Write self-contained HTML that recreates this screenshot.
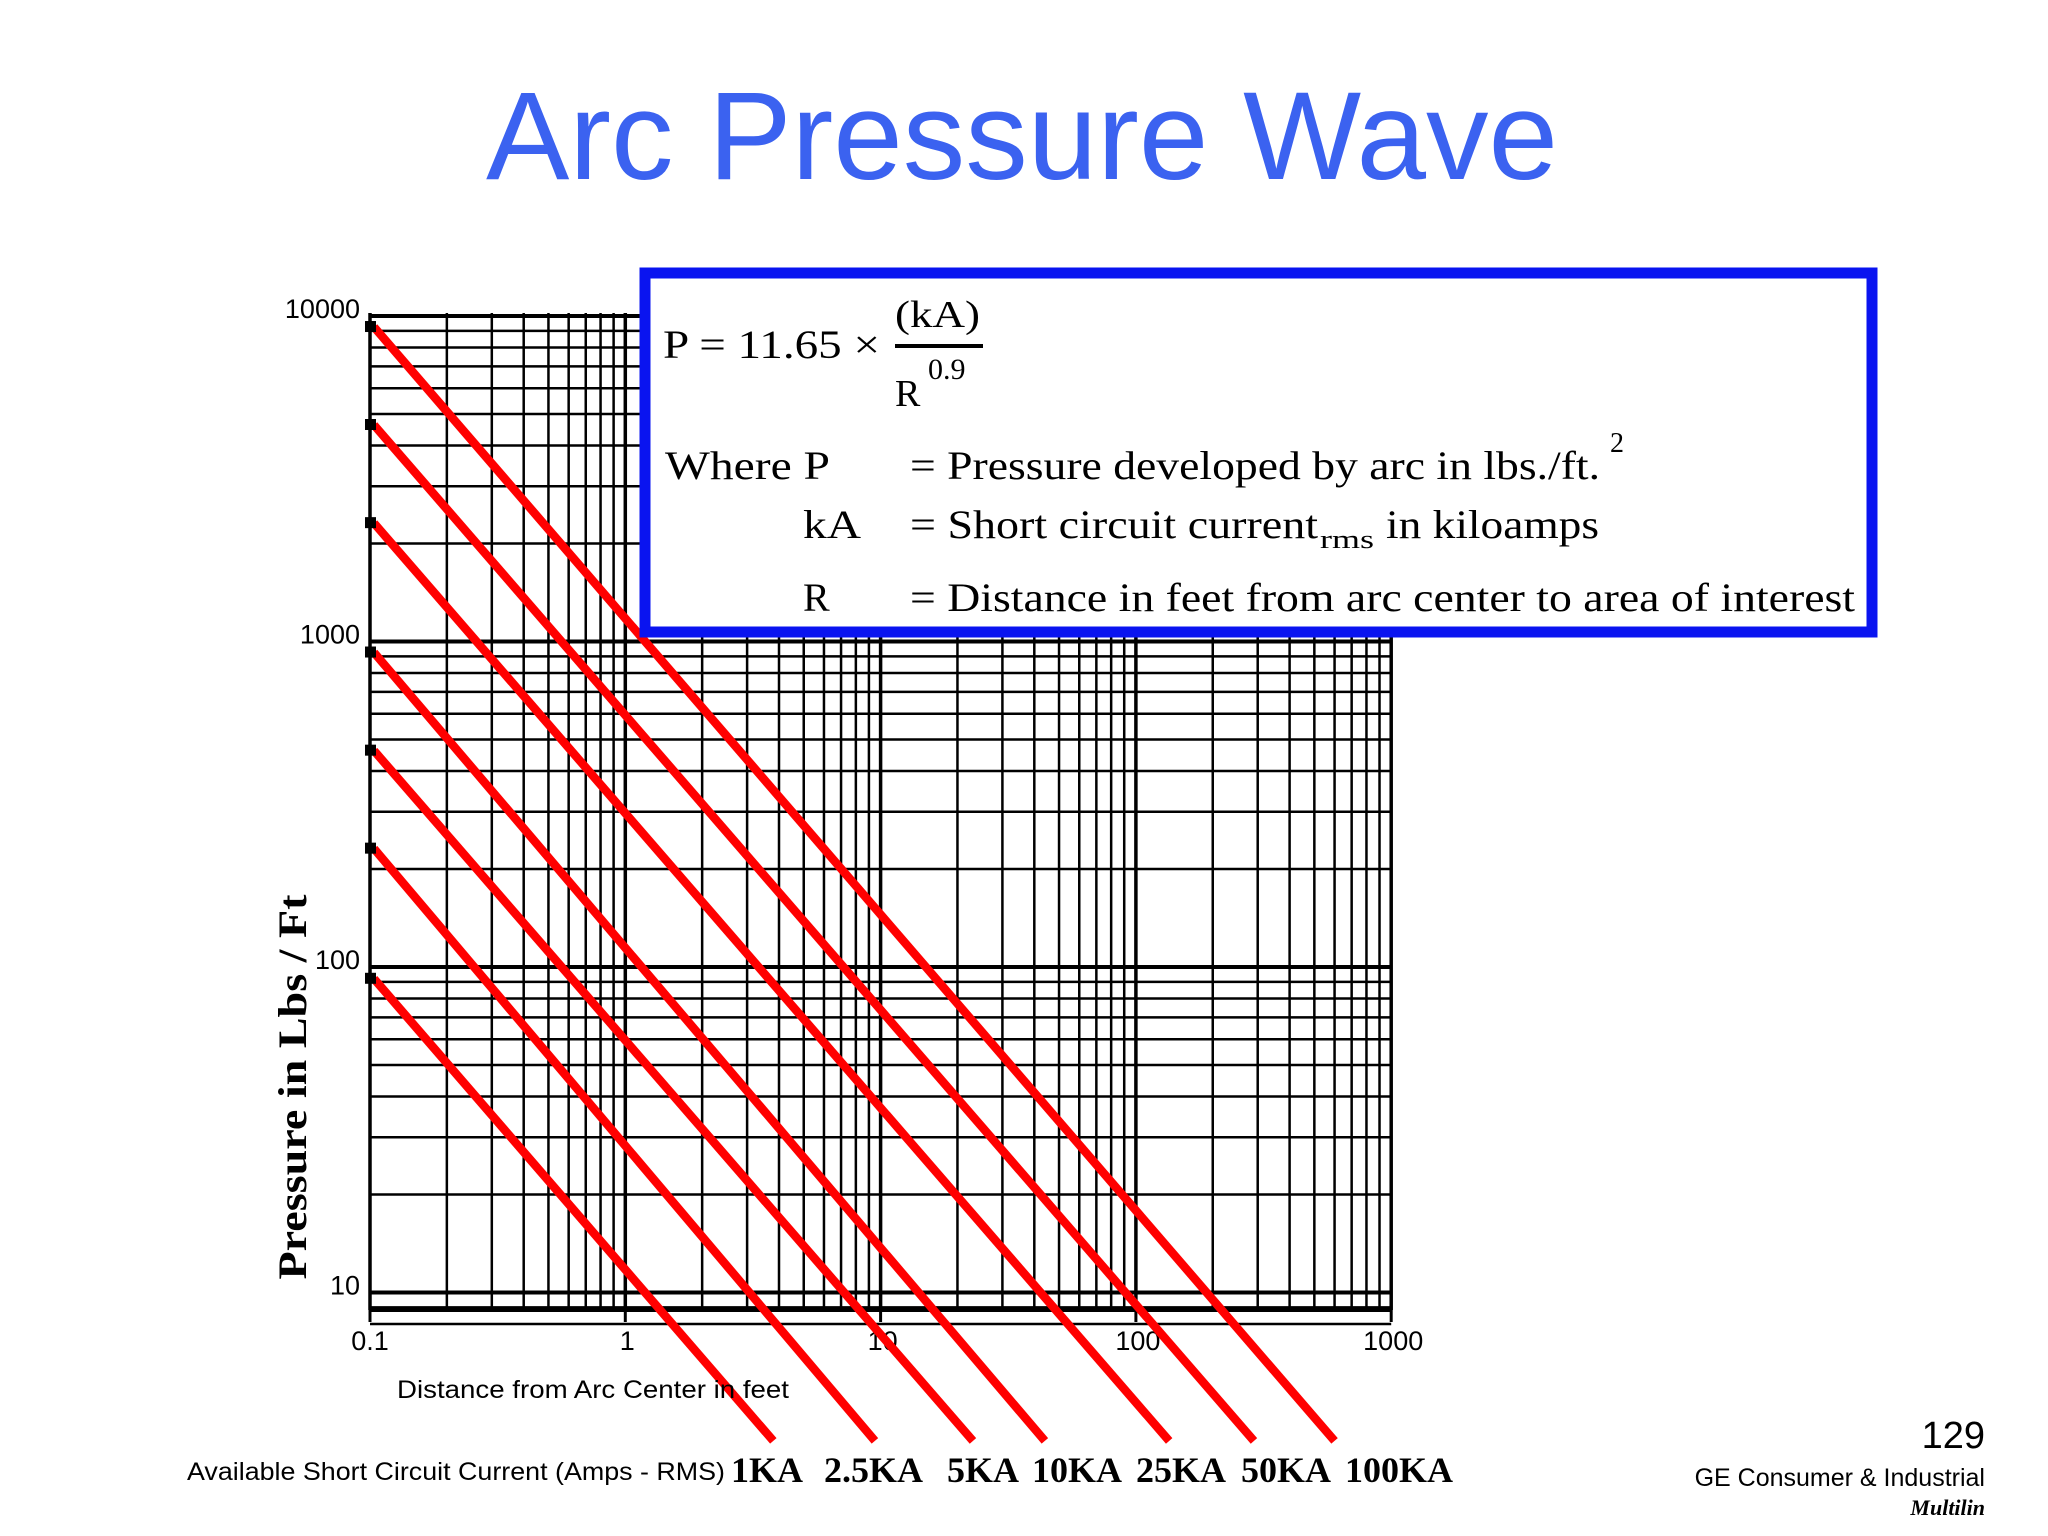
<!DOCTYPE html>
<html><head><meta charset="utf-8">
<style>
html,body{margin:0;padding:0;background:#fff;}
body{width:2048px;height:1536px;overflow:hidden;position:relative;}
svg{position:absolute;left:0;top:0;}
</style></head>
<body>
<svg id="chart" width="2048" height="1536" viewBox="0 0 2048 1536">
  <text x="1022" y="179" text-anchor="middle" font-family="Liberation Sans, sans-serif" font-size="125" fill="#3b62f0">Arc Pressure Wave</text>
  <g id="grid"></g>
  <g id="ticks"></g>
  <g id="series"></g>
  <text transform="translate(306,1087) rotate(-90)" text-anchor="middle" font-family="Liberation Serif, serif" font-weight="bold" font-size="40" fill="#000" textLength="385" lengthAdjust="spacingAndGlyphs">Pressure in Lbs / Ft</text>
  <text x="397" y="1398" font-family="Liberation Sans, sans-serif" font-size="25" fill="#000" textLength="392" lengthAdjust="spacingAndGlyphs">Distance from Arc Center in  feet</text>
  <text x="187" y="1480" font-family="Liberation Sans, sans-serif" font-size="25" fill="#000" textLength="538" lengthAdjust="spacingAndGlyphs">Available Short Circuit Current (Amps - RMS)</text>
  <g id="kalabels" font-family="Liberation Serif, serif" font-weight="bold" font-size="36" fill="#000"></g>
  <rect x="645" y="273" width="1227" height="359" fill="#fff" stroke="#0a14f0" stroke-width="11"/>
  <g font-family="Liberation Serif, serif" fill="#000">
    <text x="663" y="358" font-size="40" textLength="217" lengthAdjust="spacingAndGlyphs">P = 11.65 ×</text>
    <text x="895" y="327" font-size="38" textLength="85" lengthAdjust="spacingAndGlyphs">(kA)</text>
    <rect x="895" y="344" width="88" height="4" fill="#000"/>
    <text x="895" y="406" font-size="38">R</text>
    <text x="928" y="379" font-size="30">0.9</text>
    <text x="665" y="479" font-size="40" textLength="165" lengthAdjust="spacingAndGlyphs">Where P</text>
    <text x="910" y="479" font-size="40" textLength="690" lengthAdjust="spacingAndGlyphs">= Pressure developed by arc in lbs./ft.</text>
    <text x="1610" y="452" font-size="28">2</text>
    <text x="803" y="538" font-size="40" textLength="58" lengthAdjust="spacingAndGlyphs">kA</text>
    <text x="910" y="538" font-size="40" textLength="408" lengthAdjust="spacingAndGlyphs">= Short circuit current</text>
    <text x="1320" y="548" font-size="26" textLength="54" lengthAdjust="spacingAndGlyphs">rms</text>
    <text x="1386" y="538" font-size="40" textLength="213" lengthAdjust="spacingAndGlyphs">in kiloamps</text>
    <text x="803" y="611" font-size="40">R</text>
    <text x="910" y="611" font-size="40" textLength="945" lengthAdjust="spacingAndGlyphs">= Distance in feet from arc center to area of interest</text>
  </g>
  <text x="1985" y="1448" text-anchor="end" font-family="Liberation Sans, sans-serif" font-size="38" fill="#000">129</text>
  <text x="1985" y="1486" text-anchor="end" font-family="Liberation Sans, sans-serif" font-size="25" fill="#000">GE Consumer &amp; Industrial</text>
  <text x="1985" y="1515" text-anchor="end" font-family="Liberation Serif, serif" font-style="italic" font-weight="bold" font-size="22" fill="#000">Multilin</text>
</svg>
<script>
const currentLabels = ["1KA","2.5KA","5KA","10KA","25KA","50KA","100KA"];
const startR = [0.1,0.1,0.1,0.1,0.1,0.1,0.1];
const startP = [92,231,462,925,2310,4625,9250];
const endR = [3.8,9.5,23,44,135,290,600];
const endP = [3.5,3.5,3.5,3.5,3.5,3.5,3.5];
const labelX = [731,824,947,1032,1136,1241,1345];
const xTicks = [0.1,1,10,100,1000];
const xTickLabels = ["0.1","1","10","100","1000"];
const yTicks = [10,100,1000,10000];
const yTickLabels = ["10","100","1000","10000"];

const NS = "http://www.w3.org/2000/svg";
const X0 = 370, XD = 255.3, Y0 = 316, YD = 325.5;
function xs(r){ return X0 + XD*Math.log10(r/0.1); }
function ys(p){ return Y0 + YD*(4 - Math.log10(p)); }
function mk(tag, attrs, parent){ const e=document.createElementNS(NS,tag); for(const k in attrs) e.setAttribute(k,attrs[k]); parent.appendChild(e); return e; }

const grid = document.getElementById('grid');
const yTop = 313, yBot = 1310, xL = 370, xR = xs(1000);
for (let d=0; d<4; d++){
  for (let m=1; m<=10; m++){
    if (m===10 && d<3) continue;
    const r = 0.1*Math.pow(10,d)*m;
    const l = mk('line',{x1:xs(r),x2:xs(r),y1:yTop,y2:yBot,stroke:'#000','stroke-width':(m===1||m===10)?3.5:2.5},grid);
    
    
  }
}
for (let d=0; d<3; d++){
  for (let m=1; m<=10; m++){
    if (m===10 && d<2) continue;
    const p = 10*Math.pow(10,d)*m;
    const l = mk('line',{x1:xL,x2:xR,y1:ys(p),y2:ys(p),stroke:'#000','stroke-width':(m===1||m===10)?4:2.5},grid);
    
    
  }
}
[8,9].forEach(p=>{
  const l = mk('line',{x1:xL,x2:xR,y1:ys(p),y2:ys(p),stroke:'#000','stroke-width':2.5},grid);
  
  
});
const ax = mk('line',{x1:xL,x2:xR,y1:yBot,y2:yBot,stroke:'#000','stroke-width':4},grid);



const ticks = document.getElementById('ticks');
xTicks.forEach((v,i)=>{
  const t = mk('line',{x1:xs(v),x2:xs(v),y1:yBot,y2:yBot+12,stroke:'#000','stroke-width':3},ticks);
  
  
  const tx = mk('text',{x:xs(v)+(i===0?0:2),y:1350,'text-anchor':'middle','font-family':'Liberation Sans, sans-serif','font-size':27,fill:'#000'},ticks);
  tx.textContent = xTickLabels[i];
  
  
});
yTicks.forEach((v,i)=>{
  const tx = mk('text',{x:360,y:ys(v)+2,'text-anchor':'end','font-family':'Liberation Sans, sans-serif','font-size':27,fill:'#000'},ticks);
  tx.textContent = yTickLabels[i];
  
  
});

const series = document.getElementById('series');
currentLabels.forEach((lab,i)=>{
  const l = mk('line',{x1:xs(startR[i])+4,y1:ys(startP[i]),x2:xs(endR[i]),y2:ys(endP[i]),stroke:'#ff0000','stroke-width':8.5,'stroke-linecap':'butt'},series);
  
  
  const s = mk('rect',{x:xs(startR[i])-5,y:ys(startP[i])-6,width:11,height:11,fill:'#000'},series);
  
  
  const t = mk('text',{x:labelX[i],y:1482},document.getElementById('kalabels'));
  t.textContent = lab;
  
  
});
</script>
</body></html>
